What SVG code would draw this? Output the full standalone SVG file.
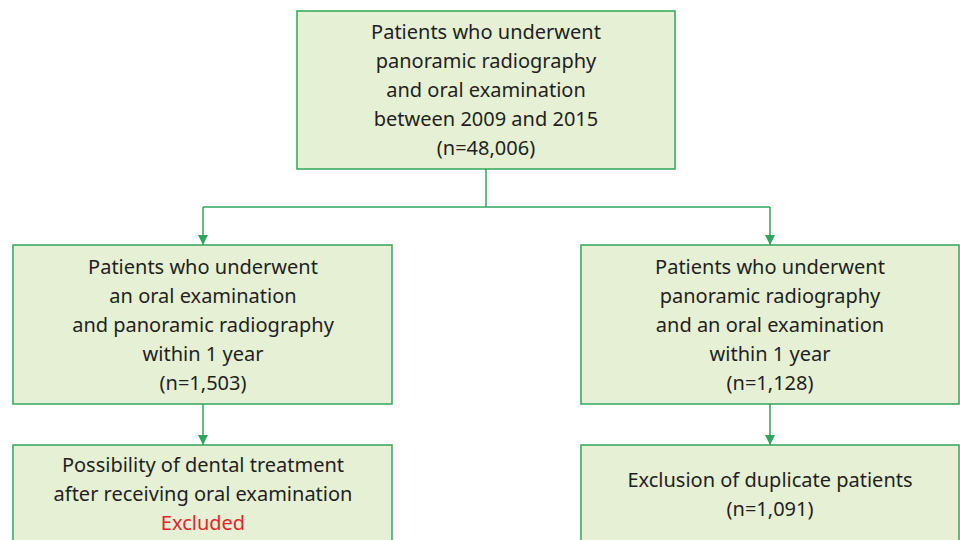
<svg xmlns="http://www.w3.org/2000/svg" width="960" height="540" viewBox="0 0 960 540">
<style>
.box{fill:#e6f0d5;stroke:#30a55c;stroke-width:1.5}
.t{font-family:"Noto Sans","Open Sans",sans-serif;font-size:20px;fill:#231f20;text-anchor:middle}
.red{fill:#e8202a}
.ln{stroke:#30a55c;stroke-width:1.5;fill:none}
</style>
<defs>
<marker id="arr" markerWidth="10" markerHeight="10" refX="10" refY="5" orient="auto" markerUnits="userSpaceOnUse">
<path d="M0,0 L10,5 L0,10 Z" fill="#30a55c"/>
</marker>
</defs>
<rect width="960" height="540" fill="#fff"/>
<g id="connectors">
<line class="ln" x1="486" y1="169" x2="486" y2="207"/>
<line class="ln" x1="203" y1="207" x2="770" y2="207"/>
<line class="ln" x1="203" y1="207" x2="203" y2="245" marker-end="url(#arr)"/>
<line class="ln" x1="770" y1="207" x2="770" y2="245" marker-end="url(#arr)"/>
<line class="ln" x1="203" y1="404" x2="203" y2="445" marker-end="url(#arr)"/>
<line class="ln" x1="770" y1="404" x2="770" y2="445" marker-end="url(#arr)"/>
</g>
<g id="n1">
<rect class="box" x="297" y="11" width="378" height="158"/>
<text class="t" x="486" y="39">Patients who underwent</text>
<text class="t" x="486" y="68">panoramic radiography</text>
<text class="t" x="486" y="97">and oral examination</text>
<text class="t" x="486" y="126">between 2009 and 2015</text>
<text class="t" x="486" y="155">(n=48,006)</text>
</g>
<g id="n2">
<rect class="box" x="13" y="245" width="379" height="159"/>
<text class="t" x="203" y="274">Patients who underwent</text>
<text class="t" x="203" y="303">an oral examination</text>
<text class="t" x="203" y="332">and panoramic radiography</text>
<text class="t" x="203" y="361">within 1 year</text>
<text class="t" x="203" y="390">(n=1,503)</text>
</g>
<g id="n3">
<rect class="box" x="581" y="245" width="378" height="159"/>
<text class="t" x="770" y="274">Patients who underwent</text>
<text class="t" x="770" y="303">panoramic radiography</text>
<text class="t" x="770" y="332">and an oral examination</text>
<text class="t" x="770" y="361">within 1 year</text>
<text class="t" x="770" y="390">(n=1,128)</text>
</g>
<g id="n4">
<rect class="box" x="13" y="445" width="379" height="120"/>
<text class="t" x="203" y="472">Possibility of dental treatment</text>
<text class="t" x="203" y="501">after receiving oral examination</text>
<text class="t red" x="203" y="530">Excluded</text>
</g>
<g id="n5">
<rect class="box" x="581" y="445" width="378" height="120"/>
<text class="t" x="770" y="487">Exclusion of duplicate patients</text>
<text class="t" x="770" y="516">(n=1,091)</text>
</g>
</svg>
